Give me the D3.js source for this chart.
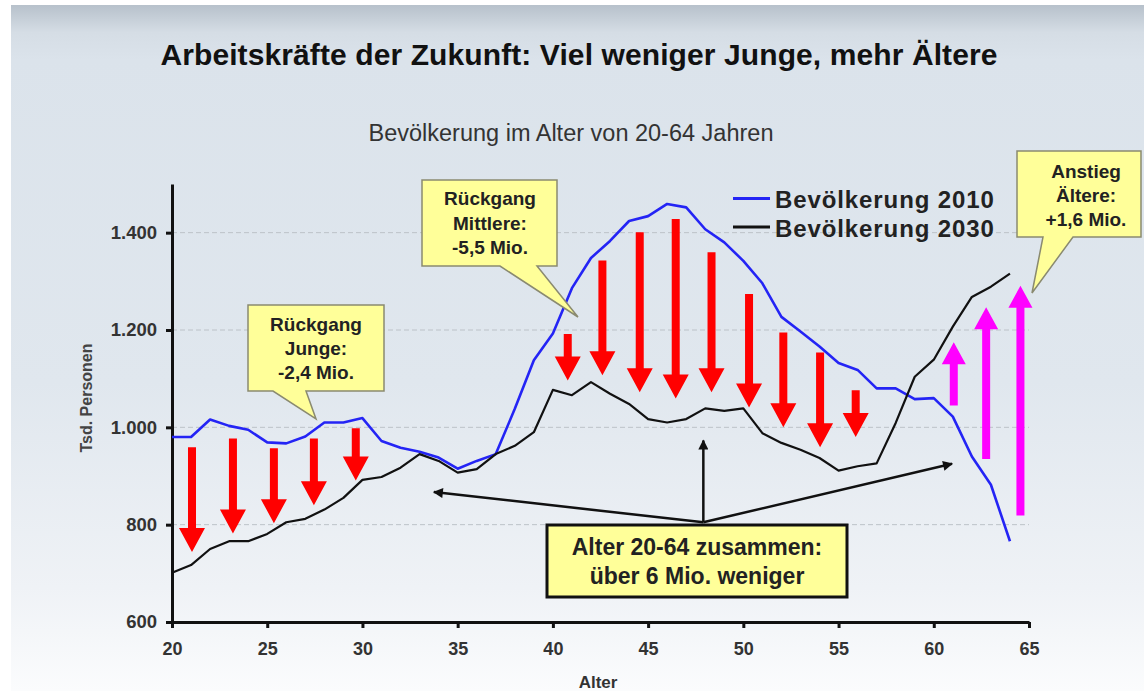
<!DOCTYPE html>
<html>
<head>
<meta charset="utf-8">
<script src="https://cdn.jsdelivr.net/npm/d3@7"></script>
<style>
  body { margin:0; padding:0; background:#fff; }
  svg { display:block; font-family:"Liberation Sans", Arial, sans-serif; }
</style>
</head>
<body>
<svg id="chart" width="1144" height="691"></svg>
<script>
// ages 20..64
var ages = d3.range(20, 65);
var pop2010 = [980, 980, 1016, 1003, 995, 969, 967, 981, 1010, 1010,
               1019, 972, 958, 950, 938, 915, 931, 945, 1038, 1138,
               1193, 1286, 1348, 1383, 1424, 1434, 1459, 1452, 1407, 1380,
               1342, 1296, 1227, 1197, 1166, 1132, 1118, 1080, 1080, 1058,
               1060, 1022, 940, 882, 766];
var pop2030 = [701, 717, 750, 766, 766, 781, 805, 812, 831, 855,
               892, 898, 917, 945, 931, 907, 914, 945, 962, 990,
               1077, 1066, 1093, 1069, 1048, 1017, 1010, 1017, 1039, 1034,
               1039, 988, 968, 954, 937, 911, 920, 926, 1009, 1104,
               1139, 1207, 1268, 1289, 1316];

// decline arrows (red) and increase arrows (magenta)
var downAge  = [21.05, 23.2, 25.35, 27.45, 29.65, 40.78, 42.6, 44.56, 46.45, 48.33, 50.3, 52.1, 54.03, 55.9];
var downFrom = [959, 977, 957, 977, 998, 1192, 1343, 1401, 1428, 1360, 1274, 1195, 1154, 1076];
var downTo   = [744, 782, 803, 840, 891, 1096, 1107, 1072, 1059, 1072, 1041, 1000, 959, 980];
var upAge  = [61.05, 62.75, 64.55];
var upFrom = [1045, 935, 819];
var upTo   = [1175, 1247, 1291];

// pointers from the summary box
var pointerFrom = [47.9, 805];
var pointerTips = [[33.75, 867], [47.9, 973], [60.96, 925]];

var yTicks = [600, 800, 1000, 1200, 1400];
var xTicks = [20, 25, 30, 35, 40, 45, 50, 55, 60, 65];
var gridVals = [800, 1000, 1200, 1400];

var seriesNames = ["Bevölkerung 2010", "Bevölkerung 2030"];
var seriesColors = ["#2424f5", "#111111"];

var svg = d3.select("#chart");
var defs = svg.append("defs");

var bg = defs.append("linearGradient").attr("id", "bg")
  .attr("x1", 0).attr("y1", 0).attr("x2", 0).attr("y2", 1);
bg.append("stop").attr("offset", "0%").attr("stop-color", "#b7c1cb");
bg.append("stop").attr("offset", "4%").attr("stop-color", "#d5dde5");
bg.append("stop").attr("offset", "8%").attr("stop-color", "#dbe3eb");
bg.append("stop").attr("offset", "55%").attr("stop-color", "#e0e7ee");
bg.append("stop").attr("offset", "85%").attr("stop-color", "#eff2f6");
bg.append("stop").attr("offset", "100%").attr("stop-color", "#fbfcfd");

defs.append("marker").attr("id", "head")
  .attr("viewBox", "0 0 10 10").attr("refX", 9).attr("refY", 5)
  .attr("markerUnits", "userSpaceOnUse")
  .attr("markerWidth", 12).attr("markerHeight", 10)
  .attr("orient", "auto")
  .append("path").attr("d", "M0,0 L10,5 L0,10 z").attr("fill", "#111");

svg.append("rect").attr("width", 1144).attr("height", 691).attr("fill", "#fff");
svg.append("rect").attr("x", 11).attr("y", 5).attr("width", 1133).attr("height", 686)
  .attr("fill", "url(#bg)");

// titles
svg.append("text").attr("x", 579).attr("y", 65).attr("text-anchor", "middle")
  .attr("font-size", 30).attr("font-weight", "bold").attr("fill", "#111")
  .attr("letter-spacing", 0.1)
  .text("Arbeitskräfte der Zukunft: Viel weniger Junge, mehr Ältere");
svg.append("text").attr("x", 571).attr("y", 141).attr("text-anchor", "middle")
  .attr("font-size", 23.5).attr("fill", "#333")
  .text("Bevölkerung im Alter von 20-64 Jahren");

var x = d3.scaleLinear().domain([20, 65]).range([172, 1029]);
var y = d3.scaleLinear().domain([600, 1500]).range([622, 184]);

// grid
svg.append("g").selectAll("line").data(gridVals).join("line")
  .attr("x1", x(20)).attr("x2", x(65))
  .attr("y1", function(d){ return y(d); }).attr("y2", function(d){ return y(d); })
  .attr("stroke", "#bcc2c8").attr("stroke-width", 1).attr("stroke-dasharray", "5,3");

var de = d3.formatLocale({decimal: ",", thousands: ".", grouping: [3], currency: ["", "€"]});
var fmt = de.format(",d");

var yAxis = svg.append("g").attr("transform", "translate(" + x(20) + ",0)")
  .call(d3.axisLeft(y).tickValues(yTicks).tickFormat(fmt).tickSize(6).tickSizeOuter(0).tickPadding(9));
var xAxis = svg.append("g").attr("transform", "translate(0," + y(600) + ")")
  .call(d3.axisBottom(x).tickValues(xTicks).tickSize(6).tickSizeOuter(0).tickPadding(14));
[yAxis, xAxis].forEach(function(a){
  a.select(".domain").attr("stroke", "#111").attr("stroke-width", 3);
  a.selectAll(".tick line").attr("stroke", "#111").attr("stroke-width", 3);
  a.selectAll(".tick text").attr("font-family", "Liberation Sans, Arial, sans-serif")
    .attr("font-weight", "bold").attr("fill", "#333");
});
yAxis.selectAll(".tick text").attr("font-size", 18.5);
xAxis.selectAll(".tick text").attr("font-size", 18);

svg.append("text").attr("transform", "translate(92,398) rotate(-90)")
  .attr("text-anchor", "middle").attr("font-size", 16).attr("font-weight", "bold")
  .attr("fill", "#444").text("Tsd. Personen");
svg.append("text").attr("x", 598).attr("y", 688).attr("text-anchor", "middle")
  .attr("font-size", 17).attr("font-weight", "bold").attr("fill", "#333").text("Alter");

// series lines
var line = d3.line().x(function(d){ return x(d[0]); }).y(function(d){ return y(d[1]); });
[pop2010, pop2030].forEach(function(vals, i){
  svg.append("path")
    .datum(ages.map(function(a, j){ return [a, vals[j]]; }))
    .attr("d", line).attr("fill", "none")
    .attr("stroke", seriesColors[i]).attr("stroke-width", i === 0 ? 2.6 : 2.2)
    .attr("stroke-linejoin", "round");
});

// block arrows
function blockArrow(xc, y0, y1, sw, hw, hl){
  var dir = y1 > y0 ? 1 : -1;
  var yb = y1 - dir * hl;
  return [[xc - sw/2, y0], [xc + sw/2, y0], [xc + sw/2, yb], [xc + hw/2, yb],
          [xc, y1], [xc - hw/2, yb], [xc - sw/2, yb]].join(" ");
}
svg.append("g").selectAll("polygon").data(downAge).join("polygon")
  .attr("points", function(d, i){ return blockArrow(x(d), y(downFrom[i]), y(downTo[i]), 8, 26, 24); })
  .attr("fill", "#ff0000");
svg.append("g").selectAll("polygon").data(upAge).join("polygon")
  .attr("points", function(d, i){ return blockArrow(x(d), y(upFrom[i]), y(upTo[i]), 8, 24, 22); })
  .attr("fill", "#ff00ff");

// pointer arrows
svg.append("g").selectAll("line").data(pointerTips).join("line")
  .attr("x1", x(pointerFrom[0])).attr("y1", y(pointerFrom[1]))
  .attr("x2", function(d){ return x(d[0]); }).attr("y2", function(d){ return y(d[1]); })
  .attr("stroke", "#111").attr("stroke-width", 2.5).attr("marker-end", "url(#head)");

// callouts
function callout(b, lines, cx, base0, step, size, stroke, sw){
  var p = "M" + b.x0 + "," + b.y0 + " H" + b.x1 + " V" + b.y1;
  if (b.tip) p += " H" + b.t1 + " L" + b.tip[0] + "," + b.tip[1] + " L" + b.t0 + "," + b.y1;
  p += " H" + b.x0 + " Z";
  svg.append("path").attr("d", p).attr("fill", "#ffff99")
    .attr("stroke", stroke).attr("stroke-width", sw).attr("stroke-linejoin", "miter");
  svg.append("g").selectAll("text").data(lines).join("text")
    .attr("x", cx).attr("y", function(d, i){ return base0 + i * step; })
    .attr("text-anchor", "middle").attr("font-size", size).attr("font-weight", "bold")
    .attr("fill", "#222").text(function(d){ return d; });
}
callout({x0: 248, y0: 305, x1: 384, y1: 391, t0: 273, t1: 306, tip: [316, 419]},
  ["Rückgang", "Junge:", "-2,4 Mio."], 316, 331, 24, 19, "#8a8a70", 1.5);
callout({x0: 422, y0: 180, x1: 557, y1: 266, t0: 500, t1: 537, tip: [578, 317]},
  ["Rückgang", "Mittlere:", "-5,5 Mio."], 490, 205, 24.5, 19, "#8a8a70", 1.5);
callout({x0: 1017, y0: 151, x1: 1141, y1: 237, t0: 1043, t1: 1073, tip: [1032, 293]},
  ["Anstieg", "Ältere:", "+1,6 Mio."], 1086, 178, 24, 19, "#8a8a70", 1.5);
callout({x0: 547, y0: 525, x1: 847, y1: 597},
  ["Alter 20-64 zusammen:", "über 6 Mio. weniger"], 697, 555, 28.5, 23, "#111", 3);

// legend
var leg = svg.append("g").selectAll("g").data(seriesNames).join("g")
  .attr("transform", function(d, i){ return "translate(733," + (198.5 + i * 28.5) + ")"; });
leg.append("line").attr("x1", 0).attr("x2", 37).attr("y1", 0).attr("y2", 0)
  .attr("stroke", function(d, i){ return seriesColors[i]; }).attr("stroke-width", 3);
leg.append("text").attr("x", 42).attr("y", 9.5).attr("font-size", 24).attr("font-weight", "bold")
  .attr("fill", "#222").attr("letter-spacing", 0.9).text(function(d){ return d; });
</script>
</body>
</html>
